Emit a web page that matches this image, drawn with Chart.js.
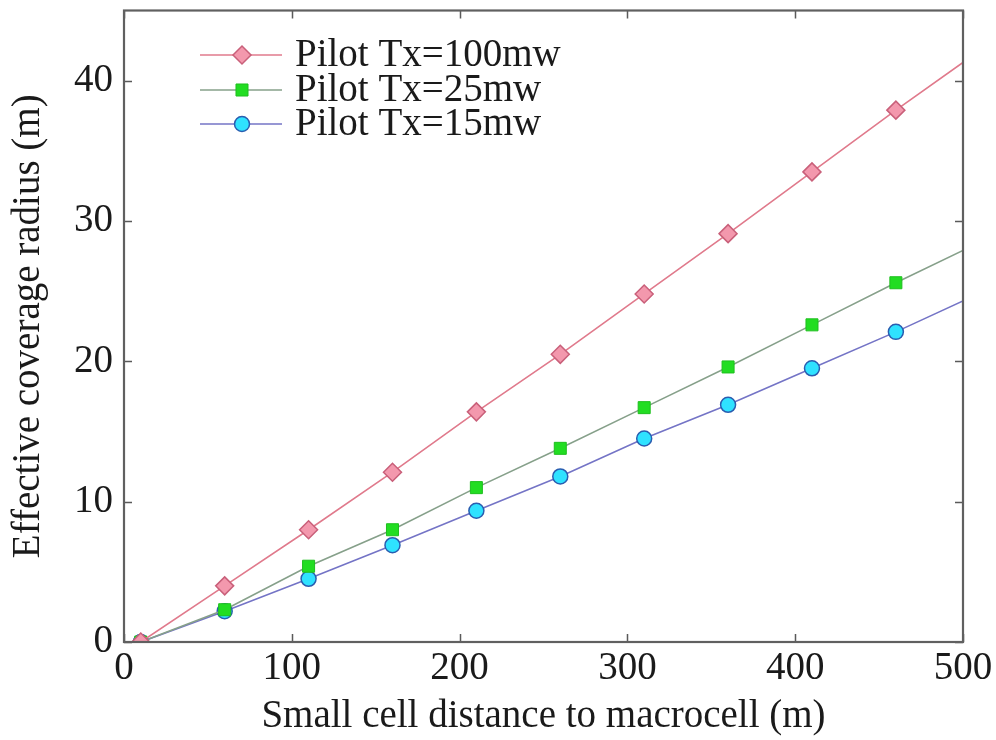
<!DOCTYPE html>
<html>
<head>
<meta charset="utf-8">
<script src="https://cdn.jsdelivr.net/npm/chart.js@4/dist/chart.umd.min.js"></script>
<style>
  html, body { margin: 0; padding: 0; background: #ffffff; }
  #wrap { width: 996px; height: 740px; position: relative; }
</style>
</head>
<body>
<div id="wrap"><canvas id="c" width="996" height="740"></canvas></div>
<script>
// ---- data ----
const distances = [10, 60, 110, 160, 210, 260, 310, 360, 410, 460, 500];
const tx100 = [0, 4.0, 8.0, 12.1, 16.4, 20.5, 24.8, 29.1, 33.5, 37.9, 41.3];
const tx25  = [0, 2.3, 5.4, 8.0, 11.0, 13.8, 16.7, 19.6, 22.6, 25.6, 27.9];
const tx15  = [0, 2.2, 4.5, 6.9, 9.35, 11.8, 14.5, 16.9, 19.5, 22.1, 24.3];
const seriesLabels = ['Pilot Tx=100mw', 'Pilot Tx=25mw', 'Pilot Tx=15mw'];
const xTicks = [0, 100, 200, 300, 400, 500];
const yTicks = [0, 10, 20, 30, 40];

const FONT = '"Liberation Serif", "Times New Roman", serif';
const FS = 39;

function pts(ys) { return distances.map((x, i) => ({ x: x, y: ys[i] })); }
const lastIdx = distances.length - 1;
function rad(r) { return (ctx) => ctx.dataIndex === lastIdx ? 0 : r; }

const datasets = [
  { label: seriesLabels[0], data: pts(tx100), borderColor: '#e07a8c', backgroundColor: '#f398ad',
    pointStyle: 'rectRot', pointRadius: rad(9), pointBorderColor: '#c9607a', pointBackgroundColor: '#f398ad',
    pointBorderWidth: 1.5, borderWidth: 1.6, tension: 0 },
  { label: seriesLabels[1], data: pts(tx25), borderColor: '#86a08a', backgroundColor: '#22dd22',
    pointStyle: 'rect', pointRadius: rad(8.5), pointBorderColor: '#1fbf1f', pointBackgroundColor: '#22dd22',
    pointBorderWidth: 1, borderWidth: 1.6, tension: 0 },
  { label: seriesLabels[2], data: pts(tx15), borderColor: '#7474c6', backgroundColor: '#2fe2ff',
    pointStyle: 'circle', pointRadius: rad(7.5), pointBorderColor: '#2a5db0', pointBackgroundColor: '#2fe2ff',
    pointBorderWidth: 1.5, borderWidth: 1.6, tension: 0 }
];

const boxPlugin = {
  id: 'boxTicks',
  afterDraw(chart) {
    const { ctx, chartArea: a, scales } = chart;
    const xs = scales.x, ys = scales.y;
    ctx.save();
    ctx.strokeStyle = '#5a5a5a';
    ctx.lineWidth = 1.5;
    const L = 8;
    ctx.beginPath();
    xTicks.forEach(v => {
      const px = Math.round(xs.getPixelForValue(v)) + 0.5;
      ctx.moveTo(px, a.bottom); ctx.lineTo(px, a.bottom - L);
      ctx.moveTo(px, a.top); ctx.lineTo(px, a.top + L);
    });
    yTicks.forEach(v => {
      const py = Math.round(ys.getPixelForValue(v)) + 0.5;
      ctx.moveTo(a.left, py); ctx.lineTo(a.left + L, py);
      ctx.moveTo(a.right, py); ctx.lineTo(a.right - L, py);
    });
    ctx.stroke();
    ctx.lineWidth = 2.2;
    ctx.strokeStyle = '#606060';
    ctx.strokeRect(a.left, a.top, a.right - a.left, a.bottom - a.top);
    ctx.restore();
  },
  afterDatasetsDraw(chart) {
    const { ctx } = chart;
    const rows = [55, 90, 124];
    ctx.save();
    chart.data.datasets.forEach((ds, i) => {
      const y = rows[i];
      ctx.strokeStyle = ds.borderColor;
      ctx.lineWidth = ds.borderWidth;
      ctx.beginPath();
      ctx.moveTo(200, y); ctx.lineTo(282, y);
      ctx.stroke();
      ctx.fillStyle = ds.pointBackgroundColor;
      ctx.strokeStyle = ds.pointBorderColor;
      ctx.lineWidth = ds.pointBorderWidth;
      const r = ds.pointStyle === 'rectRot' ? 9 : (ds.pointStyle === 'rect' ? 8.5 : 7.5);
      Chart.helpers.drawPoint(ctx, { pointStyle: ds.pointStyle, radius: r, rotation: 0, borderWidth: ds.pointBorderWidth }, 242, y);
      ctx.fillStyle = '#1a1a1a';
      ctx.font = FS + 'px ' + FONT;
      ctx.textBaseline = 'middle';
      ctx.textAlign = 'left';
      ctx.fillText(ds.label, 295, y + 1);
    });
    ctx.restore();
  }
};

new Chart(document.getElementById('c'), {
  type: 'line',
  data: { datasets },
  options: {
    responsive: false,
    animation: false,
    events: [],
    layout: { padding: { left: 0, right: 33, top: 10, bottom: 0 } },
    plugins: { legend: { display: false }, tooltip: { enabled: false } },
    scales: {
      x: {
        type: 'linear', min: 0, max: 500,
        afterFit(s) { s.height = 98; s.paddingLeft = 0; s.paddingRight = 0; },
        afterBuildTicks(s) { s.ticks = xTicks.map(v => ({ value: v })); },
        grid: { display: false, drawTicks: false },
        border: { display: false },
        ticks: { color: '#1a1a1a', font: { family: FONT, size: FS }, padding: 3, maxRotation: 0 },
        title: { display: true, text: 'Small cell distance to macrocell (m)', color: '#1a1a1a',
                 font: { family: FONT, size: FS }, padding: { top: 0, bottom: 0 } }
      },
      y: {
        type: 'linear', min: 0, max: 45,
        afterFit(s) { s.width = 124; s.paddingTop = 0; s.paddingBottom = 0; },
        afterBuildTicks(s) { s.ticks = yTicks.map(v => ({ value: v })); },
        grid: { display: false, drawTicks: false },
        border: { display: false },
        ticks: { color: '#1a1a1a', font: { family: FONT, size: FS }, padding: 11 },
        title: { display: true, text: 'Effective coverage radius (m)', color: '#1a1a1a',
                 font: { family: FONT, size: FS }, padding: { top: 5, bottom: 0 } }
      }
    }
  },
  plugins: [boxPlugin]
});
</script>
</body>
</html>
